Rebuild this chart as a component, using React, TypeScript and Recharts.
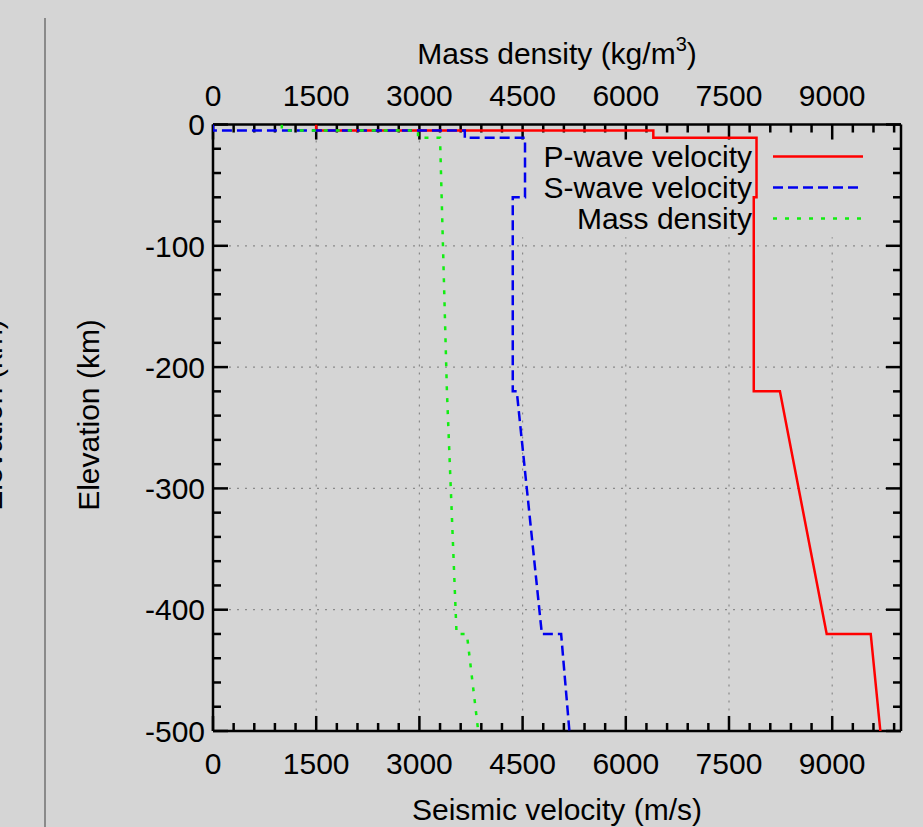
import React from 'react';
import { ScatterChart, Scatter, XAxis, YAxis, CartesianGrid, Legend, ReferenceArea, ReferenceLine } from 'recharts';

// values (depth in km, velocity m/s, density kg/m3)
const pDepth = [0, -5, -5, -11, -11, -60, -60, -220, -220, -420, -420, -500];
const pVelocity = [1500, 1500, 6400, 6400, 7900, 7900, 7860, 7860, 8240, 8920, 9560, 9700];

const sDepth = [0, -5, -5, -11, -11, -60, -60, -220, -220, -420, -420, -500];
const sVelocity = [0, 0, 3660, 3660, 4535, 4535, 4357, 4357, 4415, 4780, 5060, 5180];

const rhoDepth = [0, -5, -5, -11, -11, -220, -420, -420, -500];
const rhoDensity = [1000, 1000, 2980, 2980, 3300, 3400, 3540, 3690, 3855];

const xMajor = [0, 1500, 3000, 4500, 6000, 7500, 9000];
const xMinor = [300, 600, 900, 1200, 1800, 2100, 2400, 2700, 3300, 3600, 3900, 4200, 4800, 5100, 5400, 5700,
  6300, 6600, 6900, 7200, 7800, 8100, 8400, 8700, 9300, 9600, 9900];
const yMajor = [0, -100, -200, -300, -400, -500];
const yMinor = [-20, -40, -60, -80, -120, -140, -160, -180, -220, -240, -260, -280, -320, -340, -360, -380,
  -420, -440, -460, -480];

const X_MAX = 10000;
const Y_MIN = -500;

const zip = (vals: number[], depths: number[]) => vals.map((v, i) => ({ v, d: depths[i] }));
const pData = zip(pVelocity, pDepth);
const sData = zip(sVelocity, sDepth);
const rhoData = zip(rhoDensity, rhoDepth);

const FONT = '"Liberation Sans", Arial, Helvetica, sans-serif';
const BG = '#d5d5d5';
const THIN = 0.001; // axes need a non-zero size to render
const frame = { stroke: '#000', strokeWidth: 2.5 };

// inward tick lengths, in axis units (about 15px / 8px on screen)
const xTickMajor = 12.4, xTickMinor = 6.6;  // km, for ticks on the top/bottom edges
const yTickMajor = 218, yTickMinor = 116;   // m/s, for ticks on the left/right edges

type Side = 'bottom' | 'top' | 'left';
const makeLabel = (side: Side) => (props: any) => {
  const { x, y, payload } = props;
  const txt = { fontSize: 30, fontFamily: FONT, fill: '#000' };
  if (side === 'bottom') return <text x={x} y={y + 43} textAnchor="middle" {...txt}>{payload.value}</text>;
  if (side === 'top') return <text x={x} y={y - 18.5} textAnchor="middle" {...txt}>{payload.value}</text>;
  return <text x={x - 8} y={y + 10.7} textAnchor="end" {...txt}>{payload.value}</text>;
};

const series = [
  { name: 'P-wave velocity', color: '#ff0000', dash: undefined as string | undefined },
  { name: 'S-wave velocity', color: '#0000ee', dash: '10 5' },
  { name: 'Mass density', color: '#11ee11', dash: '4 8' },
];

const renderLegend = () => (
  <div style={{ fontFamily: FONT, fontSize: 30, lineHeight: '31px', color: '#000' }}>
    {series.map((s) => (
      <div key={s.name} style={{ display: 'flex', alignItems: 'center', height: 31 }}>
        <span style={{ width: 220, textAlign: 'right', whiteSpace: 'nowrap' }}>{s.name}</span>
        <svg width={112} height={31}>
          <line x1={21} x2={111} y1={15.5} y2={15.5} stroke={s.color} strokeWidth={2.5} strokeDasharray={s.dash} />
        </svg>
      </div>
    ))}
  </div>
);

const noDot = () => <g />;

const tickSegs = () => {
  const out: React.ReactNode[] = [];
  const add = (key: string, a: { x: number; y: number }, b: { x: number; y: number }) =>
    out.push(<ReferenceLine key={key} xAxisId="bottom" yAxisId="left" segment={[a, b]} stroke="#000" strokeWidth={2.5} ifOverflow="visible" />);
  xMajor.forEach((v) => {
    add('bM' + v, { x: v, y: Y_MIN }, { x: v, y: Y_MIN + xTickMajor });
    add('tM' + v, { x: v, y: 0 }, { x: v, y: -xTickMajor });
  });
  xMinor.forEach((v) => {
    add('bm' + v, { x: v, y: Y_MIN }, { x: v, y: Y_MIN + xTickMinor });
    add('tm' + v, { x: v, y: 0 }, { x: v, y: -xTickMinor });
  });
  yMajor.forEach((d) => {
    add('lM' + d, { x: 0, y: d }, { x: yTickMajor, y: d });
    add('rM' + d, { x: X_MAX - yTickMajor, y: d }, { x: X_MAX, y: d });
  });
  yMinor.forEach((d) => {
    add('lm' + d, { x: 0, y: d }, { x: yTickMinor, y: d });
    add('rm' + d, { x: X_MAX - yTickMinor, y: d }, { x: X_MAX, y: d });
  });
  return out;
};

export default function App() {
  return (
    <div style={{ position: 'fixed', left: 0, top: 0, width: 923, height: 827, background: BG, overflow: 'hidden' }}>
      <div style={{ position: 'absolute', left: 44, top: 18, width: 2, height: 820, background: '#8a8a8a' }} />
      <svg width={30} height={827} style={{ position: 'absolute', left: 0, top: 0 }}>
        <text x={2} y={415} transform="rotate(-90, 2, 415)" textAnchor="middle" fontSize={30} fontFamily={FONT} fill="#000">
          Elevation (km)
        </text>
      </svg>
      <ScatterChart width={923} height={827} margin={{ top: 124.5, right: 22, bottom: 96, left: 213 }}>
        <CartesianGrid xAxisId="bottom" yAxisId="left" stroke="#8a8a8a" strokeDasharray="2 6" strokeWidth={1.2} />
        <ReferenceArea xAxisId="bottom" yAxisId="left" x1={4150} x2={X_MAX} y1={-93} y2={0} fill={BG} fillOpacity={1} stroke="none" />

        <XAxis
          xAxisId="bottom" type="number" dataKey="v" domain={[0, X_MAX]} ticks={xMajor} height={THIN} interval={0}
          tickSize={0} tickMargin={0} tickLine={false} tick={makeLabel('bottom')} allowDataOverflow
          axisLine={frame}
          label={{
            position: 'bottom',
            content: ({ viewBox }: any) => (
              <text x={viewBox.x + viewBox.width / 2} y={820} textAnchor="middle" fontSize={30} fontFamily={FONT} fill="#000">
                Seismic velocity (m/s)
              </text>
            ),
          }}
        />
        <XAxis
          xAxisId="top" orientation="top" type="number" dataKey="v" domain={[0, X_MAX]} ticks={xMajor} height={THIN} interval={0}
          tickSize={0} tickMargin={0} tickLine={false} tick={makeLabel('top')} allowDataOverflow
          axisLine={frame}
          label={{
            position: 'top',
            content: ({ viewBox }: any) => (
              <text x={viewBox.x + viewBox.width / 2} y={64} textAnchor="middle" fontSize={30} fontFamily={FONT} fill="#000">
                Mass density (kg/m<tspan dy={-13} fontSize={20}>3</tspan><tspan dy={13}>)</tspan>
              </text>
            ),
          }}
        />
        <YAxis
          yAxisId="left" type="number" dataKey="d" domain={[Y_MIN, 0]} ticks={yMajor} width={THIN} interval={0}
          tickSize={0} tickMargin={0} tickLine={false} tick={makeLabel('left')} allowDataOverflow
          axisLine={frame}
          label={{
            position: 'left',
            content: () => (
              <text x={99} y={415} transform="rotate(-90, 99, 415)" textAnchor="middle" fontSize={30} fontFamily={FONT} fill="#000">
                Elevation (km)
              </text>
            ),
          }}
        />
        <YAxis yAxisId="right" orientation="right" type="number" dataKey="d" domain={[Y_MIN, 0]} ticks={yMajor} width={THIN}
          tick={false} tickLine={false} axisLine={frame} />

        {tickSegs()}

        <Legend
          layout="horizontal" verticalAlign="middle" align="center" content={renderLegend}
          wrapperStyle={{ position: 'absolute', left: 532, top: 141, width: 340, height: 93 }}
        />

        <Scatter name="P-wave velocity" data={pData} xAxisId="bottom" yAxisId="left" fill={series[0].color}
          line={{ stroke: series[0].color, strokeWidth: 2.5 }} lineType="joint" shape={noDot} isAnimationActive={false} />
        <Scatter name="S-wave velocity" data={sData} xAxisId="bottom" yAxisId="left" fill={series[1].color}
          line={{ stroke: series[1].color, strokeWidth: 2.5, strokeDasharray: series[1].dash }} lineType="joint" shape={noDot} isAnimationActive={false} />
        <Scatter name="Mass density" data={rhoData} xAxisId="top" yAxisId="left" fill={series[2].color}
          line={{ stroke: series[2].color, strokeWidth: 2.5, strokeDasharray: series[2].dash }} lineType="joint" shape={noDot} isAnimationActive={false} />
      </ScatterChart>
    </div>
  );
}
